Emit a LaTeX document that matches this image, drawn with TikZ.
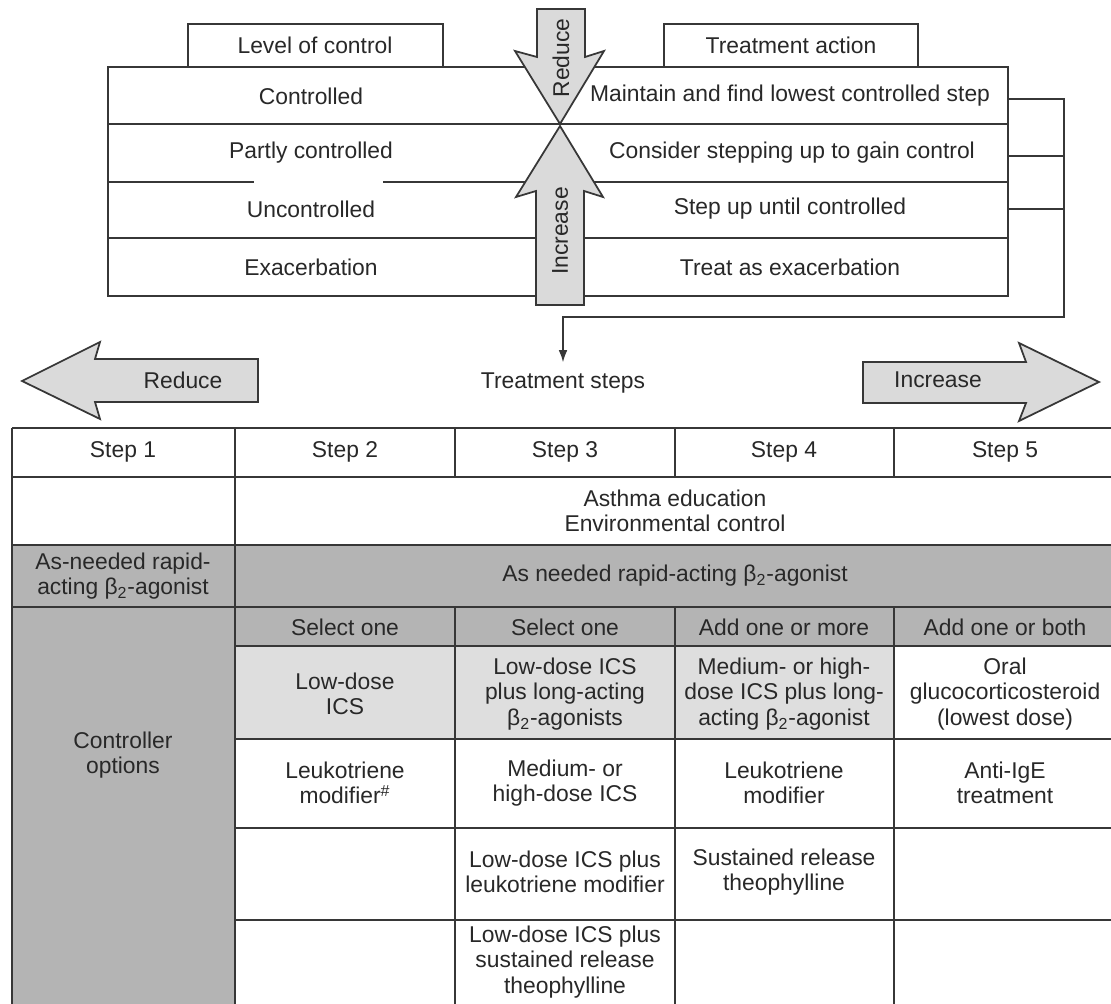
\documentclass[tikz,border=0pt]{standalone}
\usepackage{fontspec}
\setmainfont{Liberation Sans}
\usetikzlibrary{arrows.meta}
\definecolor{linegray}{RGB}{55,55,55}
\definecolor{textgray}{RGB}{40,40,40}
\definecolor{arrowgray}{RGB}{218,218,218}
\definecolor{cellgray}{RGB}{180,180,180}
\definecolor{lightgray}{RGB}{222,222,222}
\begin{document}
\begin{tikzpicture}[x=0.02cm, y=-0.02cm,
    font=\fontsize{13}{14.5}\selectfont,
    line/.style={draw=linegray, line width=1pt},
    txt/.style={align=center, inner sep=0pt, text=textgray},
    bigarrow/.style={draw=linegray, line width=1pt, fill=arrowgray},
    >={Latex[length=7pt,width=5pt]}]
    \useasboundingbox (0,0) rectangle (1111,1003);

    % Level of control and treatment action
        \draw[line] (188,67) |- (443,24) -- (443,67);
        \draw[line] (664,67) |- (918,24) -- (918,67);
        \draw[line] (108,67) rectangle (1008,296);
        \draw[line] (108,124) -- (1008,124);
        \draw[line] (108,182) -- (254,182) (383,182) -- (1008,182);
        \draw[line] (108,238) -- (1008,238);
        \node[txt] (loc) at (315,45) {Level of control};
        \node[txt] (ta) at (791,45) {Treatment action};
        \node[txt] (lc1) at (311,96) {Controlled};
        \node[txt] (lc2) at (311,153) {Partly controlled};
        \node[txt] (lc3) at (311,209) {Uncontrolled};
        \node[txt] (lc4) at (311,267) {Exacerbation};
        \node[txt] (ac1) at (790,96) {Maintain and find lowest controlled step};
        \node[txt] (ac2) at (792,153) {Consider stepping up to gain control};
        \node[txt] (ac3) at (790,209) {Step up until controlled};
        \node[txt] (ac4) at (790,267) {Treat as exacerbation};

    % Reduce and increase in the middle
        \draw[bigarrow] (537,9) -- (585,9) -- (585,57) -- (604,51) -- (560,124)
            -- (515,51) -- (537,57) -- cycle;
        \draw[bigarrow] (560,126) -- (603,197) -- (584,191) -- (584,305)
            -- (536,305) -- (536,191) -- (516,197) -- cycle;
        \node[txt, rotate=90] (red) at (561,58) {Reduce};
        \node[txt, rotate=90] (inc) at (560,231) {Increase};

    % Back to the treatment steps
        \coordinate (r1) at (1008,99);
        \coordinate (r2) at (1008,156);
        \coordinate (r3) at (1008,209);
        \coordinate (back) at (1064,317);
        \node[txt] (steps) at (563,383) {Treatment steps};
        \draw[line] (r2) -- (r2 -| back) (r3) -- (r3 -| back);
        \draw[line, ->, shorten >=0.2cm] (r1) -- (r1 -| back) -- (back)
            -- (back -| steps.north) -- (steps.north);

        \draw[bigarrow] (258,359) -- (95,359) -- (100,342) -- (22,381)
            -- (100,419) -- (95,402) -- (258,402) -- cycle;
        \node[txt] (redl) at (183,380) {Reduce};
        \draw[bigarrow] (863,362) -- (1026,362) -- (1019,343) -- (1099,382)
            -- (1019,421) -- (1026,403) -- (863,403) -- cycle;
        \node[txt] (incr) at (938,380) {Increase};

    % The table
        \fill[cellgray] (12,545) rectangle (1116,607);
        \fill[cellgray] (12,607) rectangle (235,1012);
        \fill[cellgray] (235,607) rectangle (1116,646);
        \fill[lightgray] (235,646) rectangle (894,739);
        \foreach \y in {428,477,545,607}
            \draw[line] (12,\y) -- (1116,\y);
        \foreach \y in {646,739,828,920}
            \draw[line] (235,\y) -- (1116,\y);
        \foreach \x in {12,235}
            \draw[line] (\x,428) -- (\x,1012);
        \foreach \x in {455,675,894}
            \draw[line] (\x,428) -- (\x,477) (\x,607) -- (\x,1012);

        \node[txt] (s1) at (123,452) {Step 1};
        \node[txt] (s2) at (345,452) {Step 2};
        \node[txt] (s3) at (565,452) {Step 3};
        \node[txt] (s4) at (784,452) {Step 4};
        \node[txt] (s5) at (1005,452) {Step 5};
        \node[txt] (edu) at (675,511) {Asthma education\\Environmental control};
        \node[txt] (rap1) at (123,576) {As-needed rapid-\\acting β\textsubscript{2}-agonist};
        \node[txt] (rap) at (675,576) {As needed rapid-acting β\textsubscript{2}-agonist};
        \node[txt] (ctrl) at (123,755) {Controller\\options};

        \node[txt] (sel2) at (345,627) {Select one};
        \node[txt] (sel3) at (565,627) {Select one};
        \node[txt] (sel4) at (784,627) {Add one or more};
        \node[txt] (sel5) at (1005,627) {Add one or both};

        \node[txt] (a2) at (345,694) {Low-dose\\ICS};
        \node[txt] (a3) at (565,694) {Low-dose ICS\\plus long-acting\\β\textsubscript{2}-agonists};
        \node[txt] (a4) at (784,694) {Medium- or high-\\dose ICS plus long-\\acting β\textsubscript{2}-agonist};
        \node[txt] (a5) at (1005,694) {Oral\\glucocorticosteroid\\(lowest dose)};

        \node[txt] (b2) at (345,783) {Leukotriene\\modifier\textsuperscript{\#}};
        \node[txt] (b3) at (565,783) {Medium- or\\high-dose ICS};
        \node[txt] (b4) at (784,783) {Leukotriene\\modifier};
        \node[txt] (b5) at (1005,783) {Anti-IgE\\treatment};

        \node[txt] (c3) at (565,872) {Low-dose ICS plus\\leukotriene modifier};
        \node[txt] (c4) at (784,872) {Sustained release\\theophylline};
        \node[txt] (d3) at (565,962) {Low-dose ICS plus\\sustained release\\theophylline};
\end{tikzpicture}
\end{document}
